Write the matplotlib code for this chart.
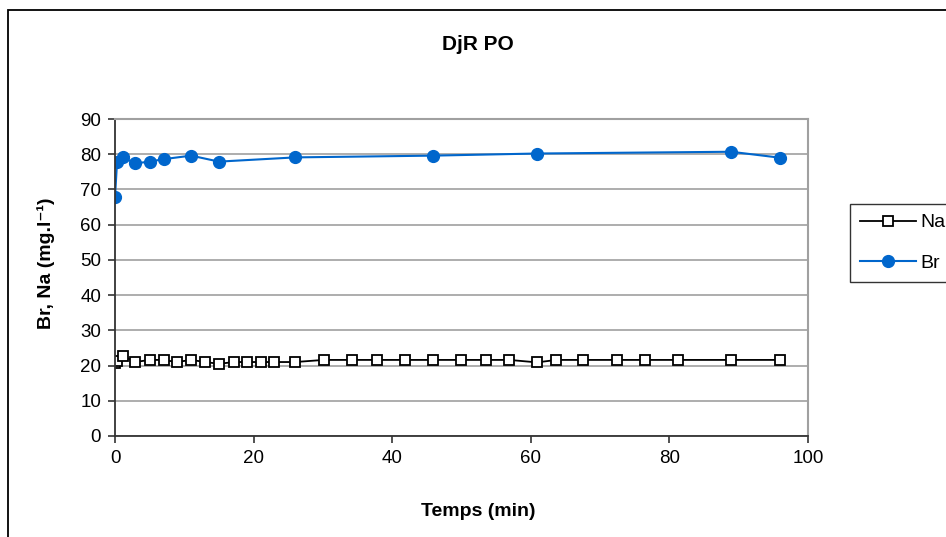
import matplotlib
matplotlib.use('Agg')
import matplotlib.pyplot as plt
from matplotlib.patches import Rectangle

plt.rcParams['font.family'] = ['Liberation Sans', 'DejaVu Sans']

# Data (time in min, concentration in mg/l)
na_time = [0, 0.3, 1.2, 2.9, 5.0, 7.0, 8.9, 11.0, 13.0, 15.0, 17.2, 19.0, 21.0, 23.0,
           26.0, 30.1, 34.2, 37.8, 41.8, 45.9, 49.9, 53.5, 56.9, 60.9, 63.7, 67.6,
           72.4, 76.5, 81.2, 88.9, 96.0]
na_conc = [20.6, 21.4, 22.7, 21.0, 21.6, 21.6, 21.0, 21.6, 21.0, 20.5, 21.0, 21.0, 21.0, 21.0,
           21.0, 21.6, 21.6, 21.6, 21.6, 21.6, 21.6, 21.6, 21.6, 20.9, 21.6, 21.6,
           21.6, 21.6, 21.6, 21.6, 21.6]

br_time = [0, 0.3, 1.2, 2.9, 5.0, 7.0, 11.0, 15.0, 26.0, 45.9, 60.9, 88.9, 96.0]
br_conc = [67.8, 77.9, 79.1, 77.4, 77.9, 78.6, 79.6, 77.9, 79.1, 79.6, 80.2, 80.7, 79.0]

fig = plt.figure(figsize=(9.46, 5.37), dpi=100)
ax = fig.add_axes([115 / 946, 1 - 436 / 537, 693 / 946, 317 / 537])

# outer chart frame (cut off on the right and bottom)
fig.add_artist(Rectangle((8 / 946, -0.05), 1.2, 1.05 - 10 / 537,
                         transform=fig.transFigure, fill=False,
                         edgecolor='black', linewidth=1.3))

ax.plot(na_time, na_conc, color='black', linewidth=1.3, marker='s', markersize=6.5,
        markerfacecolor='white', markeredgecolor='black', markeredgewidth=1.3, label='Na')
ax.plot(br_time, br_conc, color='#0066CC', linewidth=1.5, marker='o', markersize=8.5,
        markerfacecolor='#0066CC', markeredgecolor='#0066CC', label='Br')

ax.set_xlim(0, 100)
ax.set_ylim(0, 90)
ax.set_xticks(range(0, 101, 20))
ax.set_yticks(range(0, 91, 10))
ax.yaxis.grid(True, color='#a0a0a0', linewidth=1.2)
ax.set_axisbelow(True)

for side in ['top', 'right']:
    ax.spines[side].set_color('#a0a0a0')
    ax.spines[side].set_linewidth(1.5)
for side in ['left', 'bottom']:
    ax.spines[side].set_color('#333333')
    ax.spines[side].set_linewidth(1.3)

ax.tick_params(axis='both', direction='out', length=5, width=1.2, color='#333333',
               labelsize=13.5, pad=5)

# labels placed in figure pixels, as in the original chart
fig.text(478 / 946, 1 - 512 / 537, 'Temps (min)', ha='center', va='center',
         fontsize=14, fontweight='bold')
fig.text(46 / 946, 1 - 263 / 537, 'Br, Na (mg.l⁻¹)', ha='center', va='center',
         rotation=90, fontsize=14, fontweight='bold')
fig.text(478 / 946, 1 - 45 / 537, 'DjR PO', ha='center', va='center',
         fontsize=15, fontweight='bold')

leg = fig.legend(loc='upper left', bbox_to_anchor=(850 / 946, 1 - 204 / 537),
                 fontsize=14, frameon=True, fancybox=False, edgecolor='black',
                 handlelength=2.9, handletextpad=0.2, labelspacing=1.2,
                 borderpad=0.5, borderaxespad=0)
leg.get_frame().set_linewidth(1.0)

fig.savefig('out.png', dpi=100)
